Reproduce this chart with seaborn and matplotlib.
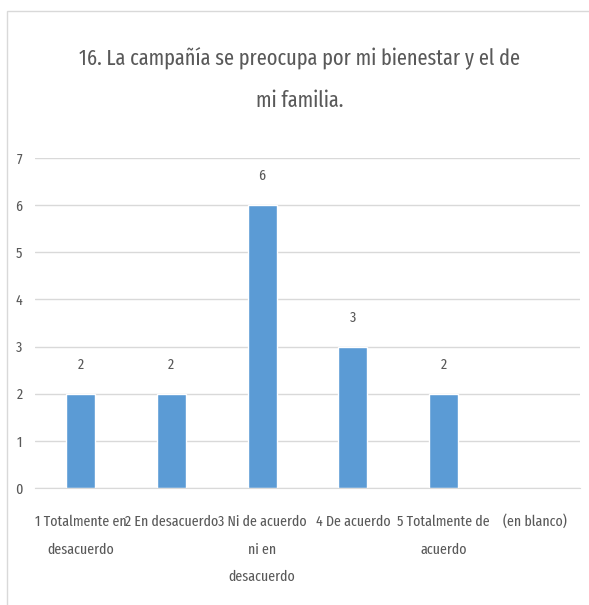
import numpy as np
import pandas as pd
import matplotlib
matplotlib.use('Agg')
import matplotlib.pyplot as plt
from matplotlib import font_manager
from matplotlib.patches import Rectangle
import seaborn as sns

# datos
categorias = ['1 Totalmente en\ndesacuerdo', '2 En desacuerdo', '3 Ni de acuerdo\nni en\ndesacuerdo',
              '4 De acuerdo', '5 Totalmente de\nacuerdo', '(en blanco)']
valores = [2, 2, 6, 3, 2, np.nan]
titulo = '16. La campañía se preocupa por mi bienestar y el de\nmi familia.'
y_ticks = [0, 1, 2, 3, 4, 5, 6, 7]

sns.set_style('white')
nombres = {f.name for f in font_manager.fontManager.ttflist}
fuente = 'DejaVu Sans'
for f in ['Fira Sans Extra Condensed', 'Roboto Condensed', 'PT Sans Narrow']:
    if f in nombres:
        fuente = f
        break
plt.rcParams['font.family'] = [fuente, 'DejaVu Sans']

gris = '#595959'
azul = '#5B9BD5'

df = pd.DataFrame({'categoria': categorias, 'valor': valores})

fig = plt.figure(figsize=(5.89, 6.05), dpi=100)
fig.patches.append(Rectangle((7 / 589, -0.01), 1.02, 1 - 11 / 605 + 0.01, transform=fig.transFigure,
                             fill=False, edgecolor='#D9D9D9', linewidth=1))
ax = fig.add_axes([35 / 589, 117 / 605, 545 / 589, 330 / 605])

sns.barplot(data=df, x='categoria', y='valor', color=azul, width=0.32, saturation=1, ax=ax)

ax.set_ylim(0, 7)
ax.set_yticks(y_ticks)
ax.yaxis.grid(True, color='#D9D9D9', linewidth=1)
ax.set_axisbelow(True)
for s in ['top', 'right', 'left']:
    ax.spines[s].set_visible(False)
ax.spines['bottom'].set_color('#D9D9D9')
ax.set_xlabel('')
ax.set_ylabel('')
ax.tick_params(axis='both', length=0, colors=gris, labelsize=11)
ax.tick_params(axis='x', pad=19)
ax.tick_params(axis='y', pad=9)

etiquetas = []
for i, v in enumerate(valores):
    if not np.isnan(v):
        etiquetas.append(ax.annotate(f'{int(v)}', (i, v), xytext=(0, 21), textcoords='offset points',
                                     ha='center', va='center', fontsize=11, color=gris))

tit = fig.text(0.509, 0.869, titulo, ha='center', va='center', fontsize=16, color=gris, linespacing=2.2)

# ajustar tamaños al ancho medido en la referencia
r = fig.canvas.get_renderer()
prueba = fig.text(0, 0, titulo.split('\n')[0], fontsize=16)
t_size = 16 * 442 / prueba.get_window_extent(r).width
prueba.set_text('2 En desacuerdo')
prueba.set_fontsize(11)
x_size = 11 * 93 / prueba.get_window_extent(r).width
prueba.remove()

tit.set_fontsize(t_size)
ax.tick_params(axis='both', labelsize=x_size)
for e in etiquetas:
    e.set_fontsize(x_size)

fig.canvas.draw()
for t in ax.get_xticklabels():
    t.set_linespacing(2.2)

fig.savefig('out.png', dpi=100)
